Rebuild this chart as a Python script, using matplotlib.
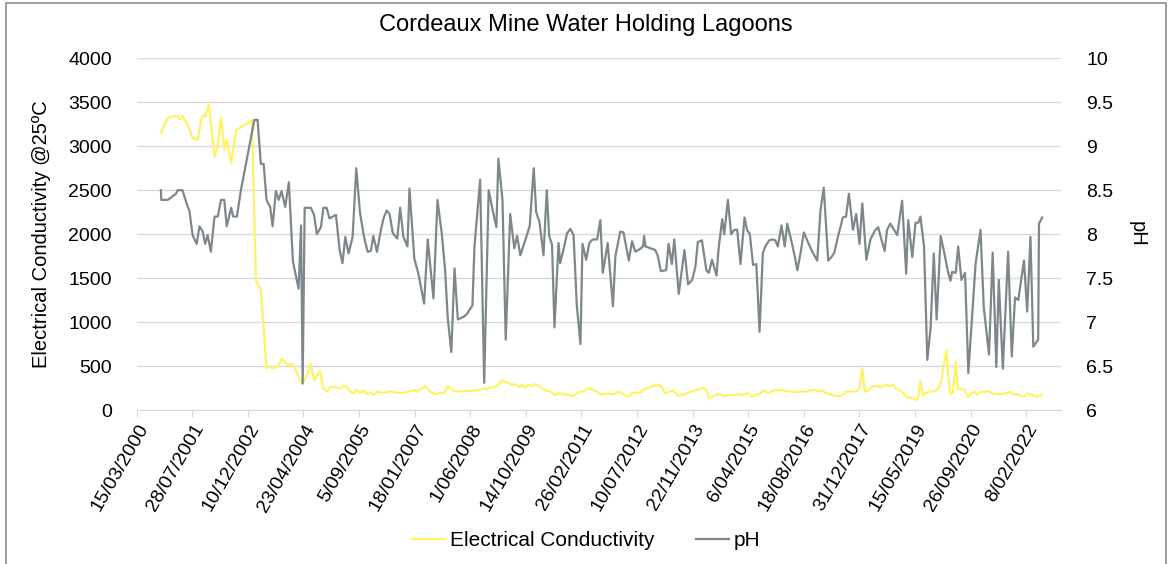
import numpy as np
import pandas as pd
import matplotlib
matplotlib.use('Agg')
import matplotlib.pyplot as plt
from matplotlib.patches import Rectangle

plt.rcParams['font.family'] = ['Liberation Sans', 'DejaVu Sans']

title = 'Cordeaux Mine Water Holding Lagoons'
ec_name = 'Electrical Conductivity'
ph_name = 'pH'
ec_axis_label = 'Electrical Conductivity @25ºC'

tick_labels = ['15/03/2000', '28/07/2001', '10/12/2002', '23/04/2004', '5/09/2005',
               '18/01/2007', '1/06/2008', '14/10/2009', '26/02/2011', '10/07/2012',
               '22/11/2013', '6/04/2015', '18/08/2016', '31/12/2017', '15/05/2019',
               '26/09/2020', '8/02/2022']

# sample times as decimal years
ec_year = [2000.80, 2000.84, 2000.97, 2001.19, 2001.27, 2001.33, 2001.46, 2001.58, 2001.70, 2001.81,
           2001.89, 2001.98, 2002.12, 2002.20, 2002.28, 2002.36, 2002.42, 2002.53, 2002.65, 2003.04,
           2003.14, 2003.26, 2003.40, 2003.47, 2003.57, 2003.68, 2003.78, 2003.92, 2004.05, 2004.19,
           2004.27, 2004.35, 2004.49, 2004.57, 2004.72, 2004.80, 2004.90, 2004.97, 2005.09, 2005.21,
           2005.29, 2005.38, 2005.46, 2005.54, 2005.62, 2005.70, 2005.79, 2005.89, 2005.99, 2006.05,
           2006.13, 2006.24, 2006.44, 2006.65, 2006.77, 2006.90, 2007.02, 2007.14, 2007.22, 2007.31,
           2007.43, 2007.55, 2007.66, 2007.77, 2007.87, 2007.92, 2008.05, 2008.17, 2008.29, 2008.42,
           2008.58, 2008.66, 2008.74, 2008.83, 2008.91, 2009.03, 2009.11, 2009.20, 2009.28, 2009.38,
           2009.44, 2009.52, 2009.61, 2009.69, 2009.75, 2009.85, 2009.93, 2010.02, 2010.10, 2010.18,
           2010.26, 2010.39, 2010.49, 2010.59, 2010.71, 2010.84, 2010.96, 2011.04, 2011.13, 2011.21,
           2011.29, 2011.37, 2011.45, 2011.54, 2011.62, 2011.70, 2011.78, 2011.91, 2011.99, 2012.07,
           2012.15, 2012.23, 2012.32, 2012.40, 2012.52, 2012.64, 2012.73, 2012.85, 2012.93, 2013.03,
           2013.11, 2013.22, 2013.33, 2013.42, 2013.51, 2013.63, 2013.71, 2013.84, 2013.96, 2014.07,
           2014.16, 2014.23, 2014.29, 2014.37, 2014.45, 2014.56, 2014.66, 2014.78, 2014.90, 2015.03,
           2015.15, 2015.27, 2015.35, 2015.48, 2015.54, 2015.64, 2015.77, 2015.89, 2015.97, 2016.09,
           2016.22, 2016.34, 2016.46, 2016.59, 2016.71, 2016.79, 2016.92, 2017.00, 2017.08, 2017.16,
           2017.29, 2017.41, 2017.53, 2017.59, 2017.67, 2017.82, 2017.94, 2018.00, 2018.07, 2018.13,
           2018.23, 2018.33, 2018.44, 2018.52, 2018.60, 2018.68, 2018.76, 2018.82, 2018.90, 2019.01,
           2019.09, 2019.17, 2019.30, 2019.40, 2019.45, 2019.50, 2019.56, 2019.63, 2019.71, 2019.79,
           2019.89, 2019.95, 2020.02, 2020.08, 2020.14, 2020.18, 2020.24, 2020.30, 2020.37, 2020.42,
           2020.49, 2020.57, 2020.68, 2020.78, 2020.84, 2020.90, 2020.98, 2021.06, 2021.17, 2021.28,
           2021.39, 2021.51, 2021.60, 2021.72, 2021.78, 2021.88, 2021.99, 2022.07, 2022.13, 2022.21,
           2022.30, 2022.40, 2022.50]
ec_value = [3145, 3200, 3325, 3350, 3305, 3350, 3240, 3095, 3070, 3340,
            3340, 3475, 2880, 3010, 3335, 2955, 3075, 2805, 3180, 3295,
            1475, 1365, 475, 490, 475, 500, 585, 510, 525, 380,
            305, 340, 525, 340, 445, 245, 210, 260, 265, 245,
            275, 265, 210, 190, 235, 195, 220, 180, 195, 170,
            210, 195, 210, 195, 195, 210, 225, 220, 245, 275,
            210, 180, 195, 195, 275, 245, 210, 210, 220, 215,
            225, 225, 245, 235, 255, 265, 285, 340, 320, 305,
            285, 295, 265, 285, 255, 285, 275, 295, 275, 245,
            225, 210, 170, 190, 180, 170, 160, 190, 210, 210,
            235, 245, 225, 210, 180, 180, 190, 180, 190, 210,
            190, 170, 150, 195, 190, 210, 245, 260, 275, 285,
            275, 190, 210, 225, 170, 170, 180, 210, 225, 240,
            255, 225, 135, 150, 170, 180, 160, 170, 170, 180,
            170, 195, 150, 180, 180, 225, 190, 225, 225, 225,
            215, 210, 205, 210, 210, 225, 225, 210, 225, 195,
            180, 160, 160, 170, 210, 210, 215, 265, 475, 210,
            225, 275, 275, 255, 275, 285, 275, 285, 245, 225,
            190, 145, 135, 115, 150, 330, 170, 195, 210, 210,
            225, 255, 340, 530, 675, 415, 180, 195, 550, 240,
            240, 235, 150, 195, 210, 170, 210, 205, 215, 190,
            180, 180, 190, 210, 180, 180, 160, 150, 190, 180,
            160, 150, 180]

ph_year = [2000.80, 2000.81, 2000.97, 2001.17, 2001.21, 2001.33, 2001.46, 2001.50, 2001.58, 2001.68,
           2001.75, 2001.83, 2001.89, 2001.95, 2002.03, 2002.12, 2002.20, 2002.28, 2002.36, 2002.42,
           2002.53, 2002.58, 2002.67, 2002.77, 2003.10, 2003.18, 2003.26, 2003.33, 2003.40, 2003.49,
           2003.55, 2003.63, 2003.70, 2003.77, 2003.86, 2003.95, 2004.05, 2004.19, 2004.25, 2004.29,
           2004.34, 2004.49, 2004.57, 2004.64, 2004.74, 2004.80, 2004.88, 2004.95, 2005.03, 2005.11,
           2005.20, 2005.27, 2005.34, 2005.42, 2005.52, 2005.61, 2005.70, 2005.80, 2005.89, 2005.97,
           2006.03, 2006.12, 2006.21, 2006.28, 2006.36, 2006.43, 2006.51, 2006.62, 2006.69, 2006.77,
           2006.87, 2006.92, 2007.04, 2007.14, 2007.28, 2007.37, 2007.51, 2007.61, 2007.72, 2007.80,
           2007.86, 2007.95, 2008.03, 2008.11, 2008.25, 2008.33, 2008.47, 2008.52, 2008.66, 2008.76,
           2008.87, 2008.97, 2009.06, 2009.11, 2009.21, 2009.29, 2009.40, 2009.50, 2009.57, 2009.65,
           2009.77, 2009.88, 2009.98, 2010.04, 2010.12, 2010.22, 2010.30, 2010.36, 2010.43, 2010.49,
           2010.59, 2010.63, 2010.71, 2010.80, 2010.88, 2010.96, 2011.04, 2011.13, 2011.18, 2011.27,
           2011.35, 2011.43, 2011.54, 2011.62, 2011.68, 2011.80, 2011.93, 2011.99, 2012.11, 2012.19,
           2012.32, 2012.40, 2012.48, 2012.59, 2012.67, 2012.70, 2012.73, 2012.85, 2012.97, 2013.03,
           2013.11, 2013.24, 2013.30, 2013.38, 2013.44, 2013.55, 2013.69, 2013.78, 2013.88, 2013.96,
           2014.02, 2014.12, 2014.23, 2014.29, 2014.37, 2014.48, 2014.53, 2014.62, 2014.67, 2014.76,
           2014.84, 2014.92, 2014.99, 2015.07, 2015.17, 2015.23, 2015.30, 2015.38, 2015.46, 2015.54,
           2015.62, 2015.68, 2015.78, 2015.86, 2015.93, 2015.99, 2016.08, 2016.16, 2016.22, 2016.32,
           2016.41, 2016.47, 2016.55, 2016.63, 2016.75, 2016.85, 2016.96, 2017.04, 2017.12, 2017.23,
           2017.31, 2017.38, 2017.47, 2017.59, 2017.67, 2017.74, 2017.84, 2017.92, 2018.00, 2018.07,
           2018.17, 2018.27, 2018.38, 2018.46, 2018.54, 2018.62, 2018.68, 2018.76, 2018.85, 2018.93,
           2019.05, 2019.15, 2019.20, 2019.30, 2019.38, 2019.45, 2019.50, 2019.59, 2019.67, 2019.75,
           2019.83, 2019.90, 2020.00, 2020.10, 2020.18, 2020.24, 2020.28, 2020.37, 2020.43, 2020.51,
           2020.60, 2020.68, 2020.86, 2020.98, 2021.06, 2021.19, 2021.28, 2021.37, 2021.43, 2021.53,
           2021.66, 2021.75, 2021.83, 2021.91, 2022.05, 2022.13, 2022.21, 2022.28, 2022.40, 2022.42,
           2022.50]
ph_value = [8.50, 8.39, 8.39, 8.46, 8.50, 8.50, 8.31, 8.27, 7.99, 7.89,
            8.09, 8.03, 7.89, 7.99, 7.80, 8.20, 8.20, 8.39, 8.39, 8.09,
            8.30, 8.20, 8.20, 8.50, 9.30, 9.30, 8.80, 8.80, 8.39, 8.31,
            8.09, 8.49, 8.39, 8.49, 8.31, 8.59, 7.69, 7.38, 8.10, 6.30,
            8.30, 8.30, 8.22, 8.00, 8.08, 8.30, 8.30, 8.18, 8.20, 8.22,
            7.82, 7.67, 7.97, 7.78, 7.97, 8.75, 8.25, 7.97, 7.80, 7.81,
            7.98, 7.80, 8.03, 8.18, 8.27, 8.23, 8.01, 7.95, 8.30, 7.97,
            7.86, 8.52, 7.72, 7.55, 7.21, 7.94, 7.27, 8.39, 7.99, 7.57,
            7.06, 6.66, 7.61, 7.03, 7.06, 7.09, 7.19, 7.86, 8.62, 6.31,
            8.50, 8.27, 8.08, 8.86, 8.39, 6.80, 8.23, 7.84, 7.98, 7.76,
            7.93, 8.09, 8.75, 8.25, 8.14, 7.76, 8.50, 7.98, 7.88, 6.94,
            7.90, 7.67, 7.82, 8.01, 8.06, 7.99, 7.19, 6.75, 7.89, 7.71,
            7.90, 7.94, 7.94, 8.16, 7.56, 7.90, 7.18, 7.75, 8.03, 8.02,
            7.70, 7.92, 7.80, 7.83, 7.86, 7.98, 7.86, 7.84, 7.82, 7.76,
            7.58, 7.59, 7.89, 7.66, 7.94, 7.32, 7.82, 7.43, 7.48, 7.63,
            7.91, 7.93, 7.59, 7.56, 7.71, 7.53, 7.83, 8.17, 8.00, 8.39,
            8.00, 8.05, 8.05, 7.66, 8.19, 8.05, 8.00, 7.65, 7.66, 6.89,
            7.78, 7.86, 7.93, 7.94, 7.93, 7.86, 8.10, 7.86, 8.12, 7.93,
            7.74, 7.59, 7.79, 8.02, 7.89, 7.79, 7.70, 8.27, 8.53, 7.70,
            7.74, 7.79, 7.97, 8.19, 8.20, 8.46, 8.05, 8.23, 7.89, 8.35,
            7.71, 7.94, 8.04, 8.08, 7.94, 7.81, 8.05, 8.12, 8.05, 7.99,
            8.38, 7.55, 8.16, 7.74, 8.13, 8.13, 8.20, 7.86, 6.57, 6.93,
            7.78, 7.03, 7.98, 7.76, 7.57, 7.47, 7.57, 7.56, 7.86, 7.48,
            7.56, 6.42, 7.67, 8.05, 7.17, 6.63, 7.79, 6.49, 7.48, 6.47,
            7.80, 6.61, 7.28, 7.25, 7.70, 7.12, 7.97, 6.72, 6.80, 8.12,
            8.19]


def to_dates(years):
    years = np.asarray(years)
    return pd.Timestamp('2000-01-01') + pd.to_timedelta((years - 2000) * 365.25, unit='D')


ec_dates = to_dates(ec_year)
ph_dates = to_dates(ph_year)
ticks = pd.to_datetime(tick_labels, dayfirst=True)

fig = plt.figure(figsize=(11.72, 5.64), dpi=100)
position = [0.1166, 0.273, 0.7887, 0.6236]
ax1 = fig.add_axes(position)
grid_c = '#d9d9d9'
ax1.plot(ec_dates, ec_value, color='#fff264', lw=1.6, label=ec_name)
ax1.set_ylim(0, 4000)
ax1.set_yticks(np.arange(0, 4001, 500))
ax1.grid(axis='y', color=grid_c, lw=1.0)
ax1.set_axisbelow(True)
ax1.set_xlim(ticks[0], ticks[-1] + pd.Timedelta(days=313))
ax1.set_xticks(ticks)
ax1.set_xticklabels(tick_labels, rotation=60, ha='right', rotation_mode='anchor', fontsize=14)
ax1.tick_params(axis='x', length=5, color=grid_c, pad=3)
ax1.tick_params(axis='y', length=0, labelsize=14, pad=18)
ax1.set_ylabel(ec_axis_label, fontsize=14.5, labelpad=12)
for s in ['top', 'left', 'right']:
    ax1.spines[s].set_visible(False)
ax1.spines['bottom'].set_color(grid_c)

ax2 = ax1.twinx()
ax2.set_position(position)
ax2.plot(ph_dates, ph_value, color='#7e878c', lw=1.6, label=ph_name)
ax2.set_ylim(6, 10)
ax2.set_yticks(np.arange(6, 10.01, 0.5))
ax2.set_yticklabels(['6', '6.5', '7', '7.5', '8', '8.5', '9', '9.5', '10'])
ax2.tick_params(axis='y', length=0, labelsize=14, pad=18)
ax2.set_ylabel(ph_name, fontsize=14.5, rotation=270, labelpad=24)
for s in ax2.spines.values():
    s.set_visible(False)

fig.suptitle(title, fontsize=17, y=0.975)

h1, l1 = ax1.get_legend_handles_labels()
h2, l2 = ax2.get_legend_handles_labels()
fig.legend(h1 + h2, l1 + l2, loc='center', bbox_to_anchor=(0.5, 0.042), ncol=2, frameon=False,
           fontsize=15, handlelength=1.6, handletextpad=0.2, columnspacing=2.0)

fig.patches.append(Rectangle((0.005, -0.01), 0.99, 1.005, transform=fig.transFigure,
                             fill=False, edgecolor='#8c8c8c', lw=1.2))

plt.savefig('out.png', dpi=100)
plt.close()
